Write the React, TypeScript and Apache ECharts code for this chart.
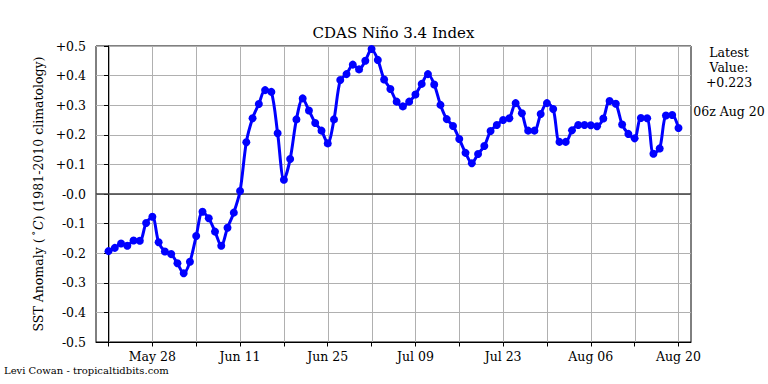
import React, { useEffect, useRef } from "react";
import * as echarts from "echarts";

// Day index 0 = May 21, one value per day up to Aug 20 (index 91)
const anomalies = [
  -0.193, -0.182, -0.167, -0.175, -0.157, -0.158, -0.098, -0.077, -0.163, -0.194,
  -0.203, -0.234, -0.268, -0.229, -0.142, -0.060, -0.082, -0.127, -0.175, -0.114,
  -0.063, 0.010, 0.175, 0.256, 0.304, 0.351, 0.345, 0.205, 0.048, 0.118,
  0.252, 0.323, 0.282, 0.240, 0.214, 0.171, 0.252, 0.385, 0.405, 0.437,
  0.421, 0.450, 0.490, 0.453, 0.387, 0.355, 0.312, 0.296, 0.312, 0.336,
  0.372, 0.405, 0.370, 0.301, 0.253, 0.230, 0.186, 0.139, 0.104, 0.135,
  0.162, 0.213, 0.233, 0.250, 0.256, 0.307, 0.273, 0.214, 0.214, 0.270,
  0.307, 0.287, 0.176, 0.176, 0.215, 0.233, 0.233, 0.232, 0.229, 0.255,
  0.314, 0.305, 0.235, 0.203, 0.188, 0.257, 0.256, 0.136, 0.154, 0.265,
  0.267, 0.223,
];

const tickDays = [0, 7, 14, 21, 28, 35, 42, 49, 56, 63, 70, 77, 84, 91];
const labelDays = [7, 21, 35, 49, 63, 77, 91];
const tickLabels = ["May 28", "Jun 11", "Jun 25", "Jul 09", "Jul 23", "Aug 06", "Aug 20"];
const yMin = -0.5;
const yMax = 0.5;

const titleText = "CDAS Niño 3.4 Index";
const latestLines = ["Latest", "Value:", "+0.223"];
const latestTime = "06z Aug 20";
const creditText = "Levi Cowan - tropicaltidbits.com";

const FONT = "DejaVu Serif";

export default function App() {
  const ref = useRef<HTMLDivElement>(null);
  useEffect(() => {
    if (!ref.current) return;
    const chart = echarts.init(ref.current, null, { renderer: "svg" });
    const gridLeft = 96;
    const gridRight = 691;
    const gridTop = 46;
    const gridBottom = 342;
    const points = anomalies.map((v, i) => [i, v]);
    const texts: any[] = [
      {
        type: "text",
        x: (gridLeft + gridRight) / 2,
        y: 33,
        style: {
          text: titleText,
          font: `15px "${FONT}"`,
          fill: "#000",
          textAlign: "center",
          textVerticalAlign: "middle",
        },
      },
      {
        type: "text",
        x: 38,
        y: 194,
        rotation: Math.PI / 2,
        style: {
          text: "{n|SST Anomaly (}{s|°}{i|C}{n|) (1981-2010 climatology)}",
          textAlign: "center",
          textVerticalAlign: "middle",
          fill: "#000",
          rich: {
            n: { fontFamily: FONT, fontSize: 12.5, fill: "#000" },
            s: { fontFamily: FONT, fontSize: 9, fill: "#000", verticalAlign: "top", padding: [0, 1, 4, 3] },
            i: { fontFamily: FONT, fontSize: 12.5, fontStyle: "italic", fill: "#000" },
          },
        },
      },
      ...latestLines.map((t, k) => ({
        type: "text",
        x: 729,
        y: 52 + k * 15,
        style: {
          text: t,
          font: `12.5px "${FONT}"`,
          fill: "#000",
          textAlign: "center",
          textVerticalAlign: "middle",
        },
      })),
      {
        type: "text",
        x: 729,
        y: 111,
        style: {
          text: latestTime,
          font: `12.5px "${FONT}"`,
          fill: "#000",
          textAlign: "center",
          textVerticalAlign: "middle",
        },
      },
      {
        type: "text",
        x: 4,
        y: 370,
        style: {
          text: creditText,
          font: `10px "${FONT}"`,
          fill: "#000",
          textAlign: "left",
          textVerticalAlign: "middle",
        },
      },
    ];
    const option: any = {
      animation: false,
      backgroundColor: "#ffffff",
      grid: {
        left: gridLeft,
        right: 768 - gridRight,
        top: gridTop,
        bottom: 384 - gridBottom,
        show: true,
        borderColor: "#000000",
        borderWidth: 1,
        backgroundColor: "transparent",
      },
      xAxis: {
        type: "value",
        min: -2,
        max: 93,
        axisLine: { show: true, onZero: false, lineStyle: { color: "#000", width: 1 } },
        axisTick: {
          show: true,
          customValues: tickDays,
          length: 4.5,
          lineStyle: { color: "#000", width: 1 },
        },
        axisLabel: {
          customValues: labelDays,
          formatter: (v: number) => {
            const i = labelDays.indexOf(Math.round(v));
            return i >= 0 ? tickLabels[i] : "";
          },
          color: "#000",
          fontFamily: FONT,
          fontSize: 12.5,
          margin: 8,
        },
        splitLine: { show: false },
      },
      yAxis: {
        type: "value",
        min: yMin,
        max: yMax,
        interval: 0.1,
        axisLine: { show: true, lineStyle: { color: "#000", width: 1 } },
        axisTick: { show: true, length: 4.5, lineStyle: { color: "#000", width: 1 } },
        axisLabel: {
          formatter: (v: number) => (v > 0.001 ? "+" : "-") + Math.abs(v).toFixed(1),
          color: "#000",
          fontFamily: FONT,
          fontSize: 12.5,
          margin: 10,
        },
        splitLine: { show: true, lineStyle: { color: "#b0b0b0", width: 1 } },
      },
      series: [
        {
          type: "line",
          data: points,
          z: 1,
          silent: true,
          symbol: "none",
          lineStyle: { opacity: 0 },
          markLine: {
            silent: true,
            z: 1,
            symbol: ["none", "none"],
            label: { show: false },
            emphasis: { disabled: true },
            data: [
              [
                { coord: [-2, 0], lineStyle: { color: "#404040", width: 1.5, type: "solid" } },
                { coord: [93, 0] },
              ],
            ],
          },
        },
        {
          type: "line",
          z: 3,
          data: points,
          smooth: 0.3,
          symbol: "circle",
          symbolSize: 8,
          showAllSymbol: true,
          lineStyle: { color: "#0000ff", width: 3 },
          itemStyle: { color: "#0000ff" },
        },
      ],
      graphic: texts,
    };
    chart.setOption(option);
    // vertical grid lines placed through the x axis scale
    const vLines = tickDays.map((d) => {
      const x = Math.round(chart.convertToPixel({ xAxisIndex: 0 }, d) as number);
      const yTop = chart.convertToPixel({ yAxisIndex: 0 }, yMax) as number;
      const yBot = chart.convertToPixel({ yAxisIndex: 0 }, yMin) as number;
      return {
        type: "rect",
        silent: true,
        z: 1,
        shape: { x: x, y: yTop, width: 1, height: yBot - yTop },
        style: { fill: "#b0b0b0" },
      };
    });
    chart.setOption({ graphic: [...texts, ...vLines] });
    return () => chart.dispose();
  }, []);
  return (
    <div
      ref={ref}
      style={{ position: "fixed", left: 0, top: 0, width: 768, height: 384 }}
    />
  );
}
